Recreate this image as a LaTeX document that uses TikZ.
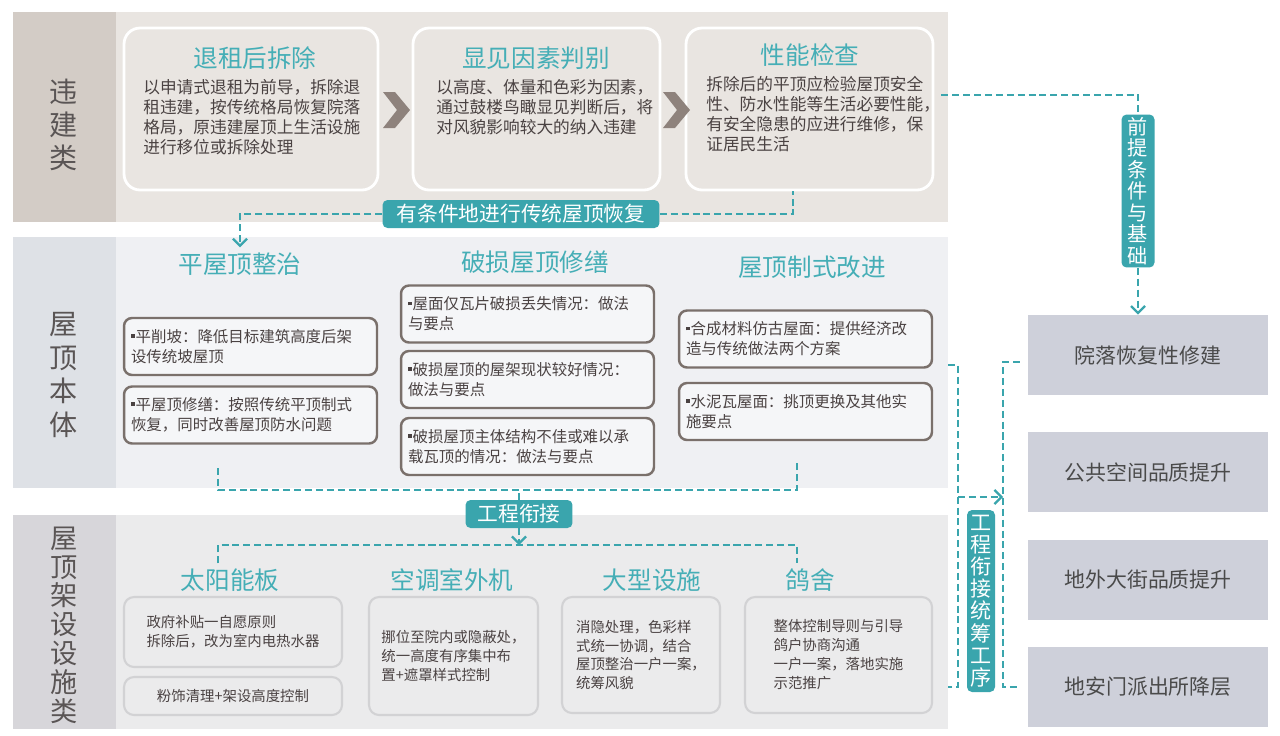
\documentclass[tikz,border=0pt]{standalone}
\usepackage{fontspec}
\setmainfont{Noto Sans CJK SC}
\usepackage{xcolor}
\usetikzlibrary{positioning,arrows.meta}
\definecolor{tealc}{HTML}{3AA5AD}
\definecolor{tealt}{HTML}{45AEB6}
\definecolor{textc}{HTML}{4A4242}
\definecolor{grpt}{HTML}{5A5555}
\definecolor{bandAa}{HTML}{D3CCC6}
\definecolor{bandAb}{HTML}{E9E5E1}
\definecolor{bandBa}{HTML}{DEE1E6}
\definecolor{bandBb}{HTML}{EFF0F3}
\definecolor{bandCa}{HTML}{D7D6DA}
\definecolor{bandCb}{HTML}{EBEBEC}
\definecolor{chev}{HTML}{8E827C}
\definecolor{pbord}{HTML}{7A706B}
\definecolor{fbord}{HTML}{D2D2D4}
\definecolor{sidefill}{HTML}{CED0DA}
\definecolor{sidet}{HTML}{4A4A4A}
\newcommand{\sqbul}{\rule[0.3em]{0.24em}{0.24em}\hspace{0.06em}}

\begin{document}
\begin{tikzpicture}[x=0.02cm,y=-0.02cm,>={Straight Barb[length=4pt,width=8pt]}]
  \tikzstyle{ttl}=[text=tealt, font=\fontsize{14}{16}\selectfont, inner sep=0pt]
  \tikzstyle{txt}=[text=textc, font=\fontsize{9.5}{11.4}\selectfont, align=left, inner sep=0pt, anchor=north west]
  \tikzstyle{topbox}=[draw=white, line width=1.6pt, fill=bandAb, rounded corners=0.32cm, minimum height=3.24cm]
  \tikzstyle{rbox}=[draw=pbord, line width=1.4pt, fill=bandBb!60!white, rounded corners=0.16cm, text=textc, font=\fontsize{8.8}{11.3}\selectfont, align=left, text width=4.78cm, inner xsep=0.14cm, minimum height=1.14cm]
  \tikzstyle{fbox}=[draw=fbord, line width=1.2pt, fill=bandCb, rounded corners=0.2cm, text=textc, font=\fontsize{8.2}{10.8}\selectfont, align=left]
  \tikzstyle{sidebox}=[fill=sidefill, minimum width=4.8cm, minimum height=1.6cm, text=sidet, font=\fontsize{11.9}{14}\selectfont]
  \tikzstyle{tag}=[fill=tealc, rounded corners=0.1cm, text=white, font=\fontsize{11.8}{13}\selectfont, inner sep=0pt]
  \tikzstyle{vtag}=[tag, align=center, font=\fontsize{11.5}{12.2}\selectfont]
  \tikzstyle{dashline}=[draw=tealc, line width=1.3pt, dash pattern=on 4pt off 2.2pt]
  \tikzstyle{grp}=[text=grpt, font=\fontsize{16}{19}\selectfont, align=center, inner sep=0pt]

  \useasboundingbox (0,0) rectangle (1280,735);
  \fill[white] (0,0) rectangle (1280,735);
  % the three bands
  \fill[bandAa] (13,12) rectangle (116,222); \fill[bandAb] (116,12) rectangle (948,222);
  \fill[bandBa] (13,237) rectangle (116,488); \fill[bandBb] (116,237) rectangle (948,488);
  \fill[bandCa] (13,515) rectangle (116,729); \fill[bandCb] (116,515) rectangle (948,729);
  \node[grp] (g1) at (64,125) {违\\建\\类};
  \node[grp] (g2) at (64,375) {屋\\顶\\本\\体};
  \node[grp, font=\fontsize{15.5}{16.4}\selectfont] (g3) at (64,625) {屋\\顶\\架\\设\\设\\施\\类};

  % band 1
  \node[topbox, minimum width=5.08cm] (b1) at (251,109) {};
  \node[topbox, minimum width=4.94cm] (b2) at (536.5,109) {};
  \node[topbox, minimum width=4.94cm] (b3) at (809.5,109) {};
  \node[ttl] (t1) at (255,58) {退租后拆除};
  \node[ttl] (t2) at (536,58) {显见因素判别};
  \node[ttl] (t3) at (810,55) {性能检查};
  \node[txt] (x1) at (143,79) {以申请式退租为前导，拆除退\\租违建，按传统格局恢复院落\\格局，原违建屋顶上生活设施\\进行移位或拆除处理};
  \node[txt] (x2) at (436,79) {以高度、体量和色彩为因素，\\通过鼓楼鸟瞰显见判断后，将\\对风貌影响较大的纳入违建};
  \node[txt] (x3) at (706,76) {拆除后的平顶应检验屋顶安全\\性、防水性能等生活必要性能，\\有安全隐患的应进行维修，保\\证居民生活};
  \fill[chev] (383,92) -- (395,92) -- (410,110) -- (395,128) -- (383,128) -- (397,110) -- cycle;
  \fill[chev] (663,92) -- (675,92) -- (690,110) -- (675,128) -- (663,128) -- (677,110) -- cycle;
  \node[tag, minimum width=5.54cm, minimum height=0.56cm] (cond) at (521,214) {有条件地进行传统屋顶恢复};

  % band 2
  \node[ttl] (pt1) at (240,264) {平屋顶整治};
  \node[ttl] (pt2) at (535,262) {破损屋顶修缮};
  \node[ttl] (pt3) at (812,267) {屋顶制式改进};
  \node[rbox] (p1) at (250.5,346.5) {\sqbul 平削坡：降低目标建筑高度后架\\设传统坡屋顶};
  \node[rbox] (p2) at (250.5,415) {\sqbul 平屋顶修缮：按照传统平顶制式\\恢复，同时改善屋顶防水问题};
  \node[rbox] (m1) at (527.5,314) {\sqbul 屋面仅瓦片破损丢失情况：做法\\与要点};
  \node[rbox] (m2) at (527.5,379.5) {\sqbul 破损屋顶的屋架现状较好情况：\\做法与要点};
  \node[rbox] (m3) at (527.5,446.5) {\sqbul 破损屋顶主体结构不佳或难以承\\载瓦顶的情况：做法与要点};
  \node[rbox] (n1) at (805.5,339) {\sqbul 合成材料仿古屋面：提供经济改\\造与传统做法两个方案};
  \node[rbox] (n2) at (805.5,411.5) {\sqbul 水泥瓦屋面：挑顶更换及其他实\\施要点};

  % band 3
  \node[ttl] (ft1) at (230,580) {太阳能板};
  \node[ttl] (ft2) at (452,580) {空调室外机};
  \node[ttl] (ft3) at (652,580) {大型设施};
  \node[ttl] (ft4) at (810,580) {鸽舍};
  \node[fbox, minimum width=4.36cm, minimum height=1.4cm] (s1) at (233,632) {政府补贴一自愿原则\\拆除后，改为室内电热水器};
  \node[fbox, minimum width=4.36cm, minimum height=0.76cm] (s2) at (233,696) {粉饰清理+架设高度控制};
  \node[fbox, minimum width=3.38cm, minimum height=2.36cm] (k1) at (453.5,656) {挪位至院内或隐蔽处，\\统一高度有序集中布\\置+遮罩样式控制};
  \node[fbox, minimum width=3.16cm, minimum height=2.32cm] (d1) at (641,655) {消隐处理，色彩样\\式统一协调，结合\\屋顶整治一户一案，\\统筹风貌};
  \node[fbox, minimum width=3.74cm, minimum height=2.32cm] (h1) at (838.5,655) {整体控制导则与引导\\鸽户协商沟通\\一户一案，落地实施\\示范推广};

  % right column
  \node[sidebox] (r1) at (1148,355) {院落恢复性修建};
  \node[sidebox] (r2) at (1148,472) {公共空间品质提升};
  \node[sidebox] (r3) at (1148,580) {地外大街品质提升};
  \node[sidebox] (r4) at (1148,687) {地安门派出所降层};
  \node[vtag, minimum width=0.66cm, minimum height=3.06cm] (pre) at (1138,191) {前\\提\\条\\件\\与\\基\\础};
  \node[vtag, minimum width=0.56cm, minimum height=3.64cm, font=\fontsize{12}{12.6}\selectfont] (seq) at (981,601) {工\\程\\衔\\接\\统\\筹\\工\\序};
  \node[tag, minimum width=2.14cm, minimum height=0.56cm] (gj) at (519,514) {工程衔接};

  % connectors
  \draw[dashline,->] (cond.west) -| ([yshift=0.1cm]pt1.north);
  \draw[dashline] (cond.east) -| ([xshift=-0.33cm]b3.south);
  \draw[dashline] ([shift={(0.14cm,0.28cm)}]b3.east) -| (pre.north);
  \draw[dashline,->] (pre.south) -- (pre.south |- r1.north);
  \coordinate (l1) at (218,468); \coordinate (l2) at (797,460);
  \coordinate (j1) at (218,490); \coordinate (j2) at (797,490);
  \draw[dashline] (l1) -- (j1) -- (j2) -- (l2);
  \draw[dashline] (gj.north) -- (gj.north |- j1);
  \coordinate (k1a) at (218,545); \coordinate (k2a) at (797,545);
  \draw[dashline] ([yshift=0.1cm]ft1.north -| k1a) -- (k1a) -- (k2a) -- ([yshift=0.1cm]ft4.north -| k2a);
  \draw[dashline,->] (gj.south) -- (gj.south |- k1a);
  \coordinate (q1) at (948,365); \coordinate (q2) at (958,365);
  \coordinate (q3) at (958,687); \coordinate (q4) at (948,687);
  \draw[dashline] (q1) -- (q2) -- (q3) -- (q4);
  \coordinate (w2) at (1003,687);
  \draw[dashline] ([shift={(-0.16cm,-0.14cm)}]r1.west) -| (w2) -- ([xshift=-0.16cm]r4.west);
  \coordinate (a1) at (958,497); \coordinate (a2) at (1003,497);
  \draw[dashline,->] (a1) -- (a2);
\end{tikzpicture}
\end{document}
